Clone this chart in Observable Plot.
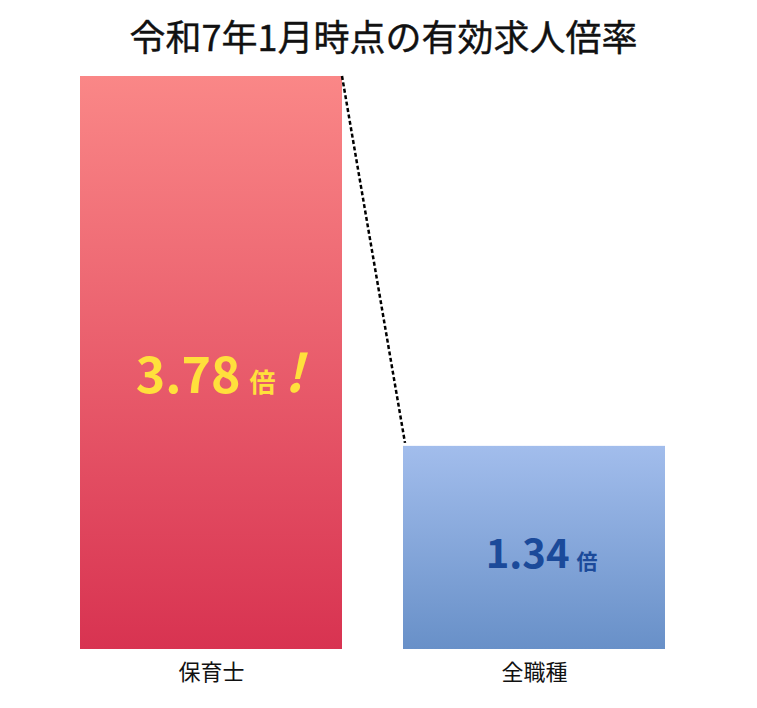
<!DOCTYPE html>
<html><head><meta charset="utf-8">
<script src="https://cdn.jsdelivr.net/npm/d3@7"></script>
<script src="https://cdn.jsdelivr.net/npm/@observablehq/plot@0.6"></script>
<style>
body{margin:0;background:#fff;font-family:"Noto Sans CJK JP",sans-serif;}
#title{height:60px;line-height:70px;text-align:center;font-size:36px;font-weight:500;color:#111;padding-left:10px;box-sizing:border-box;white-space:nowrap;-webkit-text-stroke:0.4px #111;}
#title span{font-weight:400;}
</style></head>
<body>
<div id="title"><span>令和7年1月時点の有効求人倍率</span></div>
<div id="chart"></div>
<script>
const categories = ["保育士", "全職種"];
const values = [3.78, 1.34];
const valueLabels = ["3.78", "1.34"];
const unit = "倍";
const gradients = [
  {id: "gradA", top: "#FA8787", bottom: "#D83351"},
  {id: "gradB", top: "#A2BDEC", bottom: "#6890C8"}
];
const data = categories.map((c, i) => ({cat: c, value: values[i], label: valueLabels[i], grad: `url(#${gradients[i].id})`}));

const connector = (index, scales, vals, dims, context) => {
  const x0 = scales.x(categories[0]) + scales.x.bandwidth();
  const x1 = scales.x(categories[1]);
  const g = d3.create("svg:g");
  g.append("line")
    .attr("x1", x0).attr("y1", scales.y(values[0]))
    .attr("x2", x1 + 2).attr("y2", scales.y(values[1]) - 3)
    .attr("stroke", "#000").attr("stroke-width", 2.5).attr("stroke-dasharray", "4,2.5");
  return g.node();
};

const plot = Plot.plot({
  width: 757,
  height: 648,
  marginLeft: 80,
  marginRight: 92,
  marginTop: 16,
  marginBottom: 59,
  style: {fontFamily: "Noto Sans CJK JP, sans-serif", background: "#fff"},
  x: {domain: categories, paddingInner: 0.19, paddingOuter: 0, label: null},
  y: {domain: [0, 3.78], axis: null},
  color: {type: "identity"},
  marks: [
    Plot.barY(data, {x: "cat", y: "value", fill: "grad", insetLeft: 0, insetRight: 0}),
    Plot.axisX({tickSize: 0, tickPadding: 15, fontSize: 22, fontWeight: 400, fill: "#111", stroke: "#111", strokeWidth: 0.3, label: null}),
    connector,
    // bar 1 labels
    Plot.text(data.filter(d => d.cat === categories[0]), {x: "cat", y: d => d.value / 2, text: "label", textAnchor: "end", dx: 29, dy: 14, fontSize: 50, fontWeight: "bold", fill: "#FFE03C"}),
    Plot.text(data.filter(d => d.cat === categories[0]), {x: "cat", y: d => d.value / 2, text: () => unit, textAnchor: "start", dx: 38, dy: 21, fontSize: 26, fontWeight: "bold", fill: "#FFE03C"}),
    Plot.text(data.filter(d => d.cat === categories[0]), {x: "cat", y: d => d.value / 2, text: () => "!", textAnchor: "start", dx: 73, dy: 12, fontSize: 52, fontWeight: "bold", fontStyle: "italic", fill: "#FFE03C"}),
    // bar 2 labels
    Plot.text(data.filter(d => d.cat === categories[1]), {x: "cat", y: d => d.value / 2, text: "label", textAnchor: "end", dx: 35, dy: 7, fontSize: 40, fontWeight: "bold", fill: "#1B4A9A"}),
    Plot.text(data.filter(d => d.cat === categories[1]), {x: "cat", y: d => d.value / 2, text: () => unit, textAnchor: "start", dx: 42, dy: 14, fontSize: 21, fontWeight: "bold", fill: "#1B4A9A"})
  ]
});

const svg = d3.select(plot);
const defs = svg.insert("defs", ":first-child");
gradients.forEach(g => {
  const lg = defs.append("linearGradient").attr("id", g.id).attr("x1", 0).attr("y1", 0).attr("x2", 0).attr("y2", 1);
  lg.append("stop").attr("offset", "0%").attr("stop-color", g.top);
  lg.append("stop").attr("offset", "100%").attr("stop-color", g.bottom);
});
document.getElementById("chart").appendChild(plot);
</script>
</body></html>
